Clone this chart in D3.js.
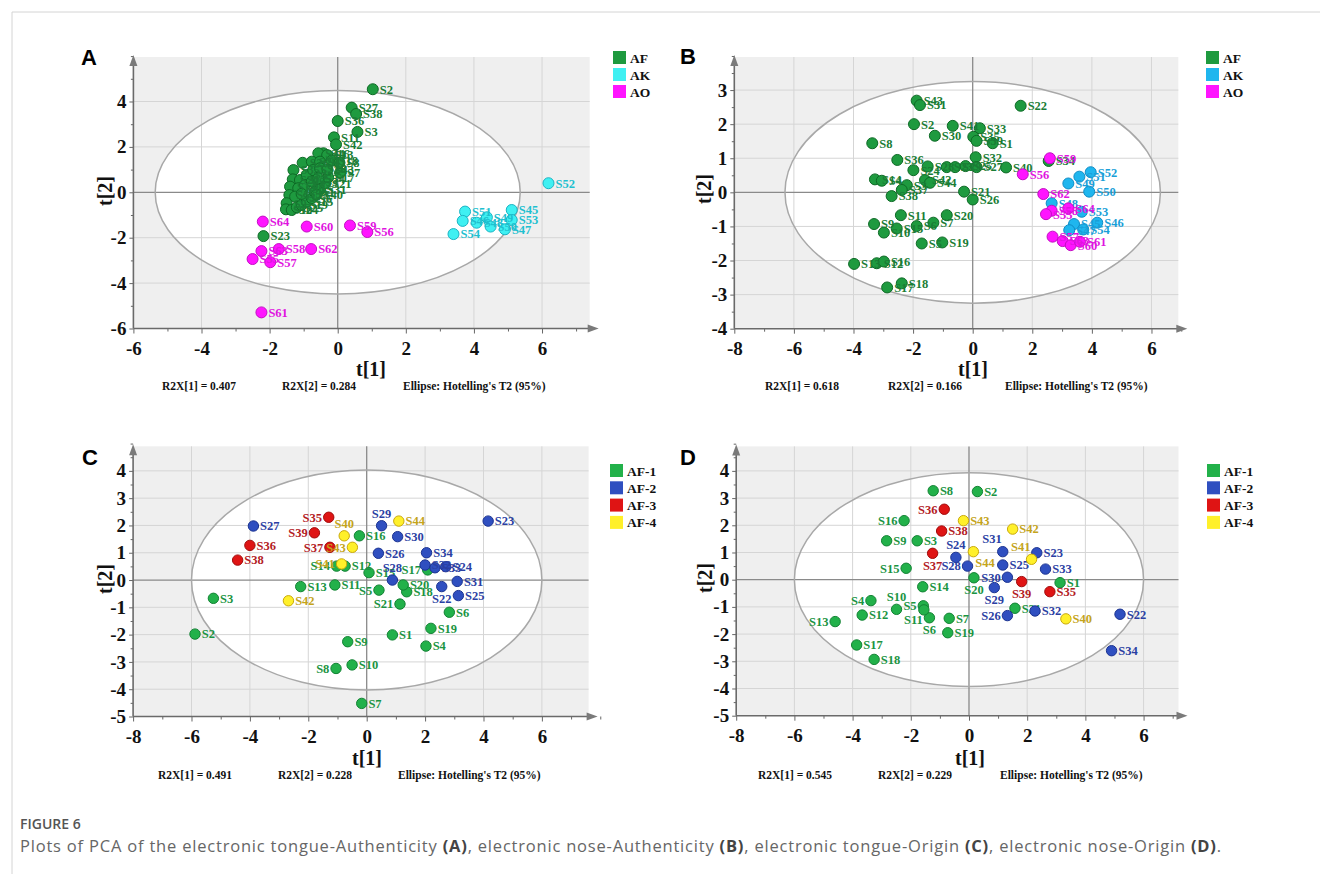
<!DOCTYPE html>
<html><head><meta charset="utf-8">
<script src="https://cdn.jsdelivr.net/npm/d3@7"></script>
<style>body{margin:0;background:#fff}svg{display:block}</style>
</head><body>
<svg id="fig" width="1320" height="874"></svg>
<script>
// ---------- Scores: electronic tongue, authenticity (A) ----------
const aAF = [["S2",1.03,4.54],["S27",0.41,3.73],["S38",0.54,3.45],["S36",0.00,3.14],["S3",0.58,2.66],
  ["S11",-0.11,2.42],["S42",-0.05,2.11],["S23",-2.18,-1.93],
  ["S16",-0.42,1.72],["S44",-0.57,1.72],["S13",-0.31,1.64],["S26",-1.03,1.30],["S35",-1.30,0.98],
  ["S29",-0.76,1.35],["S41",-0.52,1.35],["S18",-0.18,1.39],["S7",0.07,0.86],["S8",0.05,1.30],
  ["S20",-1.32,0.57],["S14",-1.40,0.25],["S5",-1.42,-0.12],["S9",-1.50,-0.48],["S10",-1.52,-0.75],
  ["S24",-1.35,-0.78],["S25",-1.20,-0.66],["S19",-1.06,-0.56],["S15",-0.91,-0.41],["S6",-0.76,-0.26],
  ["S1",-0.68,0.02],["S31",-0.52,0.13],["S21",-0.37,0.40],["S17",-0.28,0.66],["S12",-1.11,0.54],
  ["S4",-0.91,0.76],["S22",-0.72,0.98],["S28",-0.52,1.06],["S30",-1.16,0.18],["S32",-0.96,0.32],
  ["S33",-0.76,0.47],["S34",-0.57,0.62],["S37",-1.25,-0.19],["S39",-1.06,-0.07],["S40",-0.62,-0.10],
  ["S43",-0.30,1.00]];
const aAK = [["S52",6.19,0.40],["S45",5.11,-0.78],["S51",3.74,-0.85],["S53",5.11,-1.22],["S46",3.67,-1.26],
  ["S48",4.08,-1.34],["S49",4.38,-1.10],["S50",4.49,-1.51],["S47",4.91,-1.63],["S54",3.40,-1.84]];
const aAO = [["S64",-2.20,-1.29],["S60",-0.91,-1.51],["S59",0.36,-1.46],["S56",0.87,-1.75],["S62",-0.78,-2.50],
  ["S58",-1.73,-2.50],["S63",-2.24,-2.59],["S55",-2.50,-2.94],["S57",-1.98,-3.08],["S61",-2.24,-5.29]];
const aEllipse = [5.36, 4.48];
const aR2X = ["R2X[1] = 0.407", "R2X[2] = 0.284"];

// ---------- Scores: electronic nose, authenticity (B) ----------
const bAF = [["S43",-1.88,2.69],["S31",-1.77,2.56],["S2",-1.97,2.00],["S30",-1.27,1.66],["S41",-0.67,1.95],
  ["S33",0.24,1.88],["S35",0.02,1.63],["S39",0.13,1.51],["S1",0.67,1.44],["S8",-3.37,1.44],["S36",-2.53,0.95],
  ["S32",0.10,1.03],["S28",-1.51,0.76],["S23",-0.87,0.74],["S29",-0.59,0.74],["S25",-0.24,0.77],["S27",0.13,0.74],
  ["S40",1.12,0.73],["S24",-1.99,0.65],["S14",-3.28,0.38],["S4",-3.05,0.34],["S3",-2.21,0.21],["S37",-2.38,0.07],
  ["S38",-2.72,-0.11],["S42",-1.60,0.36],["S44",-1.43,0.28],["S21",-0.29,0.02],["S26",0.00,-0.21],["S11",-2.41,-0.67],
  ["S20",-0.87,-0.67],["S9",-3.31,-0.93],["S10",-2.98,-1.18],["S15",-2.55,-1.06],["S6",-1.88,-0.99],["S7",-1.32,-0.89],
  ["S5",-1.71,-1.50],["S19",-1.02,-1.47],["S13",-3.98,-2.10],["S12",-3.22,-2.08],["S16",-2.98,-2.03],["S18",-2.38,-2.67],
  ["S17",-2.87,-2.79],["S22",1.61,2.54],["S34",2.55,0.92]];
const bAK = [["S52",3.96,0.59],["S51",3.58,0.46],["S49",3.21,0.26],["S50",3.91,0.02],["S48",2.65,-0.32],
  ["S53",3.66,-0.57],["S46",4.18,-0.89],["S45",3.40,-0.93],["S47",3.24,-1.11],["S54",3.71,-1.09]];
const bAO = [["S59",2.59,1.00],["S56",1.68,0.53],["S62",2.37,-0.05],["S64",3.21,-0.47],["S58",2.65,-0.54],
  ["S55",2.46,-0.64],["S57",2.68,-1.30],["S63",3.02,-1.43],["S60",3.29,-1.55],["S61",3.60,-1.45]];
const bEllipse = [6.3, 3.25];
const bR2X = ["R2X[1] = 0.618", "R2X[2] = 0.166"];

// ---------- Scores: electronic tongue, origin (C) ----------
const cAF1 = [["S1",0.88,-2.01],["S2",-5.88,-1.98],["S3",-5.25,-0.67],["S4",2.03,-2.42],["S5",0.42,-0.37],
  ["S6",2.83,-1.18],["S7",-0.17,-4.52],["S8",-1.05,-3.24],["S9",-0.65,-2.26],["S10",-0.50,-3.11],["S11",-1.09,-0.18],
  ["S12",-0.74,0.51],["S13",-2.26,-0.24],["S14",-1.03,0.51],["S15",0.08,0.27],["S16",-0.25,1.62],["S17",2.09,0.37],
  ["S18",1.37,-0.43],["S19",2.20,-1.77],["S20",1.25,-0.18],["S21",1.14,-0.88]];
const cAF2 = [["S22",2.57,-0.24],["S23",4.16,2.16],["S24",2.71,0.49],["S25",3.14,-0.57],["S26",0.40,0.98],
  ["S27",-3.88,1.98],["S28",0.88,0.00],["S29",0.51,1.99],["S30",1.06,1.59],["S31",3.10,-0.05],["S32",2.00,0.55],
  ["S33",2.34,0.45],["S34",2.05,1.00]];
const cAF3 = [["S35",-1.30,2.30],["S36",-4.00,1.27],["S37",-1.26,1.20],["S38",-4.42,0.73],["S39",-1.79,1.73]];
const cAF4 = [["S40",-0.77,1.62],["S41",-0.86,0.59],["S42",-2.68,-0.76],["S43",-0.49,1.20],["S44",1.10,2.16]];
const cEllipse = [6.0, 4.03];
const cR2X = ["R2X[1] = 0.491", "R2X[2] = 0.228"];

// ---------- Scores: electronic nose, origin (D) ----------
const dAF1 = [["S1",3.13,-0.11],["S2",0.29,3.24],["S3",-1.78,1.43],["S4",-3.37,-0.77],["S5",-1.57,-0.96],
  ["S6",-1.36,-1.40],["S7",-0.68,-1.42],["S8",-1.23,3.27],["S9",-2.83,1.43],["S10",-2.49,-1.09],["S11",-1.55,-1.11],
  ["S12",-3.67,-1.30],["S13",-4.60,-1.54],["S14",-1.59,-0.26],["S15",-2.16,0.42],["S16",-2.23,2.17],["S17",-3.86,-2.40],
  ["S18",-3.26,-2.93],["S19",-0.73,-1.95],["S20",0.17,0.07],["S21",1.58,-1.05]];
const dAF2 = [["S22",5.19,-1.27],["S23",2.33,0.99],["S24",-0.45,0.82],["S25",1.16,0.54],["S26",1.32,-1.32],
  ["S28",-0.05,0.50],["S29",0.87,-0.29],["S30",1.32,0.09],["S31",1.16,1.03],["S32",2.27,-1.15],["S33",2.63,0.39],
  ["S34",4.90,-2.61]];
const dAF3 = [["S35",2.78,-0.44],["S36",-0.85,2.59],["S37",-1.25,0.97],["S38",-0.94,1.79],["S39",1.81,-0.07]];
const dAF4 = [["S40",3.33,-1.44],["S41",2.15,0.75],["S42",1.50,1.86],["S43",-0.19,2.17],["S44",0.15,1.03]];
const dEllipse = [6.0, 3.93];
const dR2X = ["R2X[1] = 0.545", "R2X[2] = 0.229"];

// ---------- Shared text ----------
const legendAuth = ["AF", "AK", "AO"];
const legendOrigin = ["AF-1", "AF-2", "AF-3", "AF-4"];
const ellipseNote = "Ellipse: Hotelling's T2 (95%)";
const axisTitles = ["t[1]", "t[2]"];
const figureTitle = "FIGURE 6";
const captionParts = [
  ["Plots of PCA of the electronic tongue-Authenticity ", false], ["(A)", true],
  [", electronic nose-Authenticity ", false], ["(B)", true],
  [", electronic tongue-Origin ", false], ["(C)", true],
  [", electronic nose-Origin ", false], ["(D)", true], [".", false]];

// ---------- Marker styles ----------
const STY = {
  AF:  {fill:"#1e9a3f", stroke:"#0e6a26", text:"#1a7d35"},
  AK:  {fill:"#3ff0f2", stroke:"#1ab4c4", text:"#1ec0cf"},
  AKn: {fill:"#1fb6ee", stroke:"#0f8cc5", text:"#1a9fd8"},
  AO:  {fill:"#ff14ff", stroke:"#c20fc2", text:"#e014e0"},
  G1:  {fill:"#22b14a", stroke:"#128233", text:"#1b9442"},
  G2:  {fill:"#2f4fc0", stroke:"#1b3391", text:"#2b3fa3"},
  G3:  {fill:"#df1414", stroke:"#a10b0b", text:"#b3201f"},
  G4:  {fill:"#fff02a", stroke:"#c9a90a", text:"#c4a41c"}
};

// label placement overrides (default: right of the marker)
const sidesC = {S35:"l",S39:"l",S37:"l",S40:"a",S29:"a",S28:"a",S17:"l",S5:"l",S21:"l",S22:"b",S8:"l",S14:"l",S41:"l",S43:"l"};
const sidesD = {S36:"l",S16:"l",S31:"al",S41:"al",S24:"a",S44:"br",S37:"b",S28:"l",S30:"l",S20:"b",S39:"b",
  S29:"b",S26:"l",S5:"l",S11:"bl",S6:"b",S15:"l",S4:"l",S10:"a",S13:"l"};

const panels = [
  {letter:"A", lp:[81,65], xd:[-6,7.4], xr:[133.4,589.7], yd:[-6,5.96], yr:[328.5,57],
   xMaj:[-6,6,2], xMin:1, yMaj:[-6,4,2], yMin:1, ell:aEllipse, r:5.5,
   groups:[[aAF,"AF"],[aAO,"AO"],[aAK,"AK"]], sides:{},
   legend:{x:613, y:51, step:17, names:legendAuth, keys:["AF","AK","AO"]},
   t1:[371,376], t2:[105,191], r2x:aR2X, notes:[162,282,403,390]},
  {letter:"B", lp:[680,64], xd:[-8,6.9], xr:[734.3,1178.3], yd:[-4,3.97], yr:[328.7,57],
   xMaj:[-8,6,2], xMin:1, yMaj:[-4,3,1], yMin:0.5, ell:bEllipse, r:5.5,
   groups:[[bAF,"AF"],[bAK,"AKn"],[bAO,"AO"]], sides:{},
   legend:{x:1206, y:51, step:17, names:legendAuth, keys:["AF","AKn","AO"]},
   t1:[973,376], t2:[704,189], r2x:bR2X, notes:[765,888,1005,390]},
  {letter:"C", lp:[82,465], xd:[-8,7.6], xr:[133.1,588.6], yd:[-5,4.9], yr:[716.5,446.3],
   xMaj:[-8,6,2], xMin:1, yMaj:[-5,4,1], yMin:0.5, ell:cEllipse, r:5.2,
   groups:[[cAF1,"G1"],[cAF2,"G2"],[cAF3,"G3"],[cAF4,"G4"]], sides:sidesC,
   legend:{x:610, y:464, step:17.3, names:legendOrigin, keys:["G1","G2","G3","G4"]},
   t1:[367,765], t2:[105,579], r2x:cR2X, notes:[158,278,398,779]},
  {letter:"D", lp:[680,465], xd:[-8,7.2], xr:[736.2,1178.5], yd:[-5,4.9], yr:[715.7,446.4],
   xMaj:[-8,6,2], xMin:1, yMaj:[-5,4,1], yMin:0.5, ell:dEllipse, r:5.2,
   groups:[[dAF1,"G1"],[dAF2,"G2"],[dAF3,"G3"],[dAF4,"G4"]], sides:sidesD,
   legend:{x:1207, y:464, step:17.3, names:legendOrigin, keys:["G1","G2","G3","G4"]},
   t1:[970,765], t2:[705,578], r2x:dR2X, notes:[758,878,1000,779]}
];

const SERIF = "'Liberation Serif','Times New Roman',serif";
const svg = d3.select("#fig");
const steps = (a, b, s) => d3.range(Math.round(a / s), Math.round(b / s) + 1).map(i => +(i * s).toFixed(4));

// figure frame
svg.append("line").attr("x1",12).attr("x2",1320).attr("y1",12).attr("y2",12).attr("stroke","#d4d4d4");
svg.append("line").attr("x1",12).attr("x2",12).attr("y1",12).attr("y2",874).attr("stroke","#d4d4d4");

panels.forEach(p => {
  const g = svg.append("g");
  const x = d3.scaleLinear().domain(p.xd).range(p.xr);
  const y = d3.scaleLinear().domain(p.yd).range(p.yr);
  const [xl, xrr] = p.xr, [yb, yt] = p.yr;

  // plot background, grey outside the Hotelling ellipse
  g.append("rect").attr("x", xl).attr("y", yt).attr("width", xrr - xl).attr("height", yb - yt).attr("fill", "#efefef");
  g.append("ellipse").attr("cx", x(0)).attr("cy", y(0))
    .attr("rx", x(p.ell[0]) - x(0)).attr("ry", y(0) - y(p.ell[1])).attr("fill", "#fff");

  const xMajor = steps(...p.xMaj), yMajor = steps(...p.yMaj);
  const xMinor = steps(p.xd[0], p.xd[1], p.xMin).filter(v => !xMajor.includes(v));
  const yMinor = steps(p.yd[0], p.yd[1], p.yMin).filter(v => !yMajor.includes(v));

  // grid
  g.selectAll(null).data(xMajor.filter(v => v > p.xd[0] && v !== 0)).join("line")
    .attr("x1", d => x(d)).attr("x2", d => x(d)).attr("y1", yb).attr("y2", yt)
    .attr("stroke", "#d5d5d5").attr("stroke-width", 1);
  g.selectAll(null).data(yMajor.filter(v => v > p.yd[0] && v !== 0)).join("line")
    .attr("y1", d => y(d)).attr("y2", d => y(d)).attr("x1", xl).attr("x2", xrr)
    .attr("stroke", "#d5d5d5").attr("stroke-width", 1);
  // zero lines
  g.append("line").attr("x1", x(0)).attr("x2", x(0)).attr("y1", yb).attr("y2", yt).attr("stroke", "#8a8a8a").attr("stroke-width", 1.3);
  g.append("line").attr("y1", y(0)).attr("y2", y(0)).attr("x1", xl).attr("x2", xrr).attr("stroke", "#8a8a8a").attr("stroke-width", 1.3);

  // ellipse outline
  g.append("ellipse").attr("cx", x(0)).attr("cy", y(0))
    .attr("rx", x(p.ell[0]) - x(0)).attr("ry", y(0) - y(p.ell[1]))
    .attr("fill", "none").attr("stroke", "#a8a8a8").attr("stroke-width", 1.5);

  // axes
  const styleAxis = sel => {
    sel.select(".domain").remove();
    sel.selectAll(".tick line").attr("stroke", "#666");
    sel.selectAll(".tick text").attr("font-family", SERIF).attr("font-weight", "bold")
      .attr("font-size", 19).attr("fill", "#111");
  };
  g.append("g").attr("transform", `translate(0,${yb})`)
    .call(d3.axisBottom(x).tickValues(xMajor).tickSize(5).tickPadding(8).tickFormat(d => String(d))).call(styleAxis);
  g.append("g").attr("transform", `translate(0,${yb})`)
    .call(d3.axisBottom(x).tickValues(xMinor).tickSize(3).tickFormat("")).call(styleAxis);
  g.append("g").attr("transform", `translate(${xl},0)`)
    .call(d3.axisLeft(y).tickValues(yMajor).tickSize(4).tickPadding(3).tickFormat(d => String(d))).call(styleAxis);
  g.append("g").attr("transform", `translate(${xl},0)`)
    .call(d3.axisLeft(y).tickValues(yMinor).tickSize(2.5).tickFormat("")).call(styleAxis);

  // axis lines with arrow heads
  g.append("line").attr("x1", xl).attr("x2", xl).attr("y1", yb).attr("y2", yt + 4).attr("stroke", "#6a6a6a").attr("stroke-width", 1.6);
  g.append("line").attr("x1", xl).attr("x2", xrr + 4).attr("y1", yb).attr("y2", yb).attr("stroke", "#6a6a6a").attr("stroke-width", 1.6);
  g.append("path").attr("d", `M${xl},${yt - 2} L${xl - 4},${yt + 9} L${xl + 4},${yt + 9} Z`).attr("fill", "#7a7a7a");
  g.append("path").attr("d", `M${xrr + 9},${yb} L${xrr - 2},${yb - 4} L${xrr - 2},${yb + 4} Z`).attr("fill", "#7a7a7a");

  // axis titles
  g.append("text").attr("x", p.t1[0]).attr("y", p.t1[1]).attr("text-anchor", "middle")
    .attr("font-family", SERIF).attr("font-weight", "bold").attr("font-size", 20).attr("fill", "#111").text(axisTitles[0]);
  g.append("text").attr("transform", `translate(${p.t2[0]},${p.t2[1]}) rotate(-90)`).attr("text-anchor", "middle").attr("dy", "0.35em")
    .attr("font-family", SERIF).attr("font-weight", "bold").attr("font-size", 20).attr("fill", "#111").text(axisTitles[1]);

  // score points and sample labels
  p.groups.forEach(([data, key]) => {
    const s = STY[key];
    const gg = g.append("g");
    gg.selectAll("circle").data(data).join("circle")
      .attr("cx", d => x(d[1])).attr("cy", d => y(d[2])).attr("r", p.r)
      .attr("fill", s.fill).attr("stroke", s.stroke).attr("stroke-width", 1);
    gg.selectAll("text").data(data).join("text")
      .each(function(d) {
        const side = p.sides[d[0]] || "r";
        const cx = x(d[1]), cy = y(d[2]), r = p.r;
        let tx = cx + r + 1.5, ty = cy, anchor = "start", dy = "0.35em";
        if (side === "l") { tx = cx - r - 1.5; anchor = "end"; }
        else if (side === "a") { tx = cx; ty = cy - r - 3; anchor = "middle"; dy = "0"; }
        else if (side === "al") { tx = cx - 1; ty = cy - r - 3; anchor = "end"; dy = "0"; }
        else if (side === "b") { tx = cx; ty = cy + r + 11; anchor = "middle"; dy = "0"; }
        else if (side === "br") { tx = cx + 2; ty = cy + r + 10; anchor = "start"; dy = "0"; }
        else if (side === "bl") { tx = cx - 1; ty = cy + r + 9; anchor = "end"; dy = "0"; }
        d3.select(this).attr("x", tx).attr("y", ty).attr("dy", dy).attr("text-anchor", anchor);
      })
      .attr("font-family", SERIF).attr("font-weight", "bold").attr("font-size", 12.5)
      .attr("fill", s.text).text(d => d[0]);
  });

  // legend
  const L = p.legend;
  L.names.forEach((nm, i) => {
    g.append("rect").attr("x", L.x).attr("y", L.y + i * L.step).attr("width", 13).attr("height", 13).attr("fill", STY[L.keys[i]].fill);
    g.append("text").attr("x", L.x + 17).attr("y", L.y + i * L.step + 11.5)
      .attr("font-family", SERIF).attr("font-weight", "bold").attr("font-size", 13.5).attr("fill", "#111").text(nm);
  });

  // panel letter
  g.append("text").attr("x", p.lp[0]).attr("y", p.lp[1])
    .attr("font-family", "'Liberation Sans',Arial,sans-serif").attr("font-weight", "bold").attr("font-size", 22)
    .attr("fill", "#000").text(p.letter);

  // model notes under the plot
  const nt = [p.r2x[0], p.r2x[1], ellipseNote];
  nt.forEach((t, i) => {
    g.append("text").attr("x", p.notes[i]).attr("y", p.notes[3])
      .attr("font-family", SERIF).attr("font-weight", "bold").attr("font-size", 11.5).attr("fill", "#111").text(t);
  });
});

// caption
svg.append("text").attr("x", 20).attr("y", 829)
  .attr("font-family", "'Open Sans',sans-serif").attr("font-weight", 600).attr("font-size", 14)
  .attr("fill", "#555").text(figureTitle);
const cap = svg.append("text").attr("x", 20).attr("y", 852)
  .attr("font-family", "'Open Sans',sans-serif").attr("font-size", 16.5).attr("letter-spacing", 0.8).attr("fill", "#666");
captionParts.forEach(([t, b]) => cap.append("tspan").attr("font-weight", b ? 700 : 400).attr("fill", b ? "#444" : "#666").text(t));
</script>
</body></html>
